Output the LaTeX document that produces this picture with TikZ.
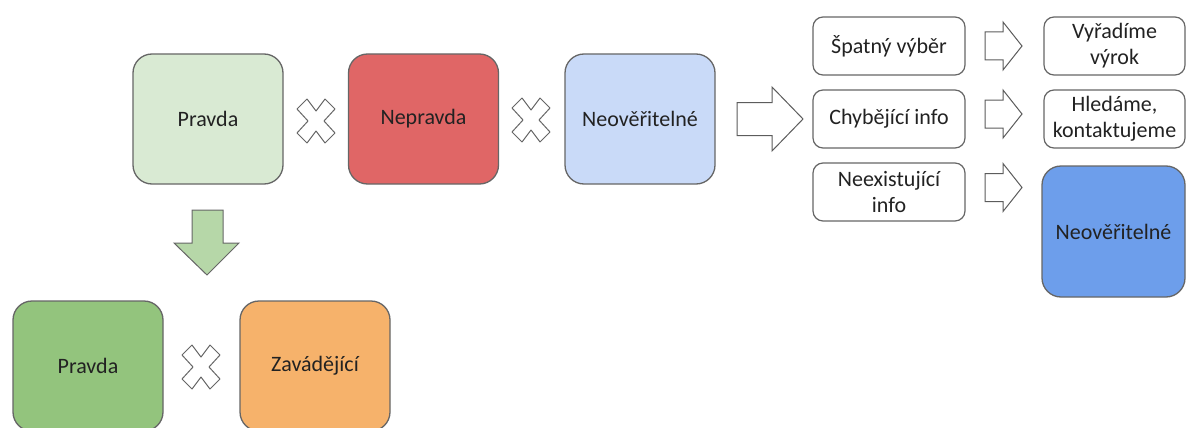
\documentclass[tikz,border=0pt]{standalone}
\usepackage{fontspec}
\setmainfont{Carlito}
\definecolor{lgreen}{HTML}{D9EAD3}
\definecolor{mgreen}{HTML}{93C47D}
\definecolor{agreen}{HTML}{B6D7A8}
\definecolor{lred}{HTML}{E06666}
\definecolor{lblue}{HTML}{C9DAF8}
\definecolor{mblue}{HTML}{6D9EEB}
\definecolor{lorange}{HTML}{F6B26B}
\definecolor{edge}{HTML}{666666}
\definecolor{txt}{HTML}{222222}
\begin{document}
\begin{tikzpicture}[x=1pt,y=-1pt,
  bigbox/.style={draw=edge, line width=1.3pt, rounded corners=19pt, minimum width=150pt, minimum height=130pt, inner sep=0pt, text=txt, font=\fontsize{22}{26}\selectfont},
  smallbox/.style={draw=edge, line width=1.2pt, rounded corners=10pt, fill=white, minimum width=152pt, minimum height=58pt, inner sep=0pt, align=center, text=txt, font=\fontsize{22}{26}\selectfont},
  blockarrow/.style={draw=edge!90!black, line width=1pt, fill=white, line join=miter},
  xmark/.style={draw=edge, line width=1pt, fill=white, line join=round}
]
\useasboundingbox (0,0) rectangle (1186,428);
\clip (0,0) rectangle (1186,428);

% top row
\node[bigbox, fill=lgreen] (p1) at (208,119) {Pravda};
\node[bigbox, fill=lred] (n1) at (423.5,119) {Nepravda};
\node[bigbox, fill=lblue] (u1) at (640,119) {Neověřitelné};

% bottom row
\node[bigbox, fill=mgreen] (p2) at (88,366) {Pravda};
\node[bigbox, fill=lorange] (z2) at (315,366) {Zavádějící};

% right column
\node[smallbox] (s1) at (889,46) {Špatný výběr};
\node[smallbox] (s2) at (889,119) {Chybějící info};
\node[smallbox] (s3) at (889,192) {Neexistující\\info};
\node[smallbox, minimum width=141pt] (r1) at (1114.5,46) {Vyřadíme\\výrok};
\node[smallbox, minimum width=141pt] (r2) at (1114.5,119) {Hledáme,\\kontaktujeme};
\node[bigbox, fill=mblue, minimum width=143pt, minimum height=131pt] (r3) at (1113.5,231.5) {Neověřitelné};

% X marks
\foreach \cx/\cy in {316/121, 531/120, 201/367} {
  \draw[xmark, shift={(\cx,\cy)}]
    (-19,-12) -- (-9,-22) -- (0,-10) -- (9,-22) -- (19,-12) -- (8,0)
    -- (19,12) -- (9,22) -- (0,10) -- (-9,22) -- (-19,12) -- (-8,0) -- cycle;
}

% big right arrow
\draw[blockarrow] (737,102.5) -- (772,102.5) -- (772,87) -- (803,119) -- (772,151)
  -- (772,135.5) -- (737,135.5) -- cycle;

% small right arrows
\foreach \cy in {46, 114, 187.5} {
  \draw[blockarrow, shift={(0,\cy)}] (985,-14) -- (1003,-14) -- (1003,-24) -- (1022,0)
    -- (1003,24) -- (1003,14) -- (985,14) -- cycle;
}

% green down arrow
\draw[draw=edge, line width=1pt, fill=agreen, line join=miter]
  (192,210) -- (223,210) -- (223,243) -- (239,243) -- (207,275) -- (174,243)
  -- (192,243) -- cycle;
\end{tikzpicture}
\end{document}
